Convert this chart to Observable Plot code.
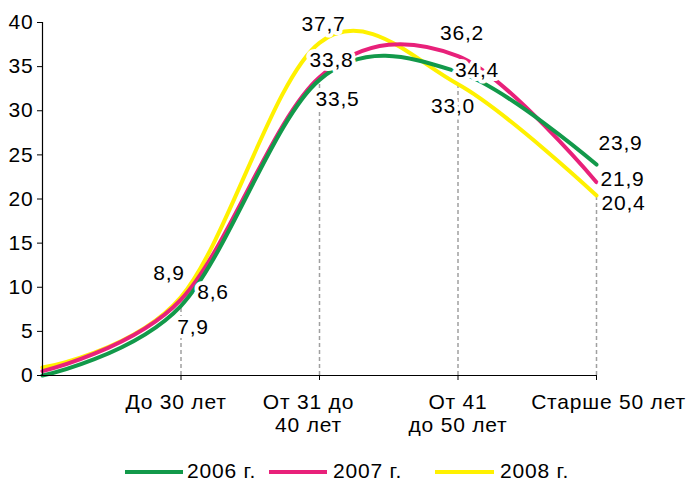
<!DOCTYPE html>
<html>
<head>
<meta charset="utf-8">
<script src="https://cdn.jsdelivr.net/npm/d3@7"></script>
<script src="https://cdn.jsdelivr.net/npm/@observablehq/plot@0.6"></script>
<style>
  body { margin: 0; background: #fff; font-family: "Liberation Sans", Arial, sans-serif; }
  #chart svg { display: block; }
  #chart svg text { letter-spacing: 0.8px; }
  #legend { position: relative; width: 692px; height: 36px; font-size: 21px; color: #000; letter-spacing: 0.8px; }
  #legend .sw { position: absolute; top: 25px; height: 4px; }
  #legend .lb { position: absolute; top: 14px; line-height: 24px; }
</style>
</head>
<body>
<div id="chart"></div>
<div id="legend"></div>
<script>
// ---- data ----
const categories = ["", "До 30 лет", "От 31 до\n40 лет", "От 41\nдо 50 лет", "Старше 50 лет"];
const series = ["2006 г.", "2007 г.", "2008 г."];
const values2006 = [0, 7.9, 33.5, 34.4, 23.9];
const values2007 = [0.5, 8.6, 33.8, 36.2, 21.9];
const values2008 = [0.9, 8.9, 37.7, 33.0, 20.4];
const yTicks = [0, 5, 10, 15, 20, 25, 30, 35, 40];

// ---- styling / layout ----
const colors = ["#12994a", "#e8217a", "#fff100"];
const allValues = [values2006, values2007, values2008];
// label offsets (px) per series for category indices 1..4
const labelOffsets = [
  [[12, 21], [18, 19], [19, -2], [24, -21]],
  [[32, -7], [12, -17], [4, -23], [26, -3]],
  [[-12, -24], [4, -19], [-5, 22], [27, 8]]
];
const categoryDx = [0, -5, -11, 0, 12];

const rows = [];
allValues.forEach((vals, s) => vals.forEach((v, i) => rows.push({series: series[s], i, v})));

const fmt = v => v.toFixed(1).replace(".", ",");
const font = "Liberation Sans, Arial, sans-serif";

const mins = [1, 2, 3, 4].map(i => ({i, v: Math.min(...allValues.map(a => a[i]))}));

const labelMarks = [];
allValues.forEach((vals, s) => {
  [1, 2, 3, 4].forEach((i, k) => {
    const [dx, dy] = labelOffsets[s][k];
    labelMarks.push(Plot.text([{i, v: vals[i]}], {
      x: "i", y: "v", text: d => fmt(d.v), dx, dy,
      fontSize: 21, fill: "#000", stroke: "white", strokeWidth: 8,
      textAnchor: "middle", lineAnchor: "middle"
    }));
  });
});

const catMarks = [1, 2, 3, 4].map(i => Plot.text([{i}], {
  x: "i", y: 0, text: d => categories[d.i], dx: categoryDx[i], dy: 16,
  fontSize: 21, fill: "#000", textAnchor: "middle", lineAnchor: "top", lineHeight: 1.14
}));

const drawOrder = [2, 1, 0];

const plot = Plot.plot({
  width: 692,
  height: 445,
  marginLeft: 42,
  marginRight: 96,
  marginTop: 22,
  marginBottom: 70,
  style: {fontFamily: font, fontSize: "21px", color: "#000", background: "#fff"},
  x: {type: "linear", domain: [0, 4]},
  y: {domain: [0, 40]},
  color: {domain: series, range: colors},
  marks: [
    Plot.ruleX(mins, {x: "i", y1: 0, y2: "v", stroke: "#a0a0a0", strokeWidth: 1.5, strokeDasharray: "4,3"}),
    ...drawOrder.map(s => Plot.line(rows.filter(d => d.series === series[s]), {
      x: "i", y: "v", stroke: "series", strokeWidth: 4, curve: "cardinal"
    })),
    Plot.axisY({ticks: yTicks, tickSize: 5, tickPadding: 4, fontSize: 21, label: null, stroke: "#000"}),
    Plot.ruleX([0], {stroke: "#000", strokeWidth: 1.2}),
    Plot.ruleY([0], {stroke: "#000", strokeWidth: 1.2}),
    Plot.axisX({ticks: [1, 2, 3, 4], tickSize: 5, tickFormat: () => "", label: null, stroke: "#000"}),
    ...catMarks,
    ...labelMarks
  ]
});
document.getElementById("chart").appendChild(plot);

// legend
const legend = document.getElementById("legend");
const legendPos = [[125, 58, 187], [269, 58, 333], [435, 59, 500]];
series.forEach((name, s) => {
  const [sx, sw, tx] = legendPos[s];
  const sEl = document.createElement("div");
  sEl.className = "sw";
  sEl.style.left = sx + "px";
  sEl.style.width = sw + "px";
  sEl.style.background = colors[s];
  legend.appendChild(sEl);
  const t = document.createElement("div");
  t.className = "lb";
  t.style.left = tx + "px";
  t.textContent = name;
  legend.appendChild(t);
});
</script>
</body>
</html>
